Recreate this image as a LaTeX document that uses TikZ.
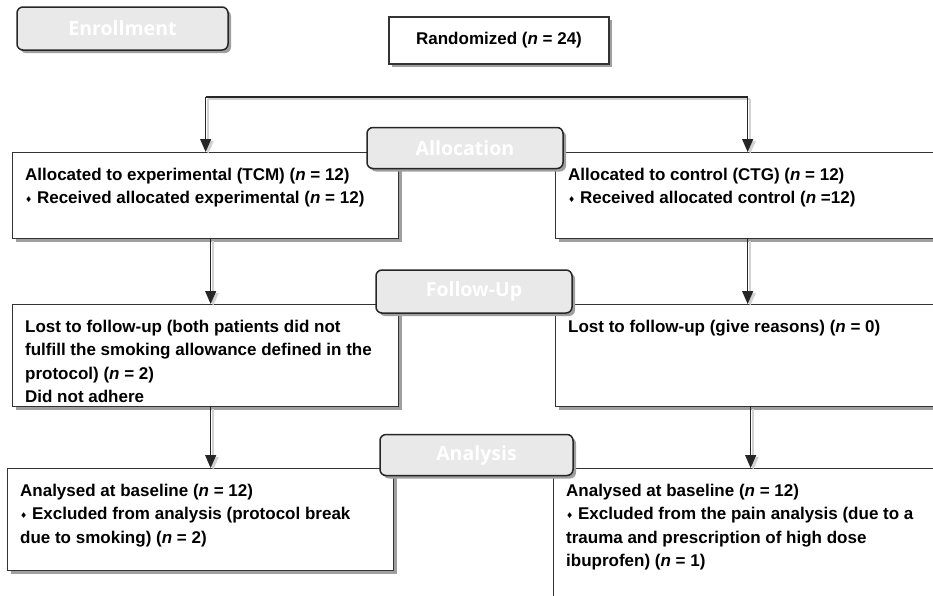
\documentclass[tikz,border=0pt]{standalone}
\usepackage{fontspec}
\setmainfont{Liberation Sans}
\newfontfamily\headfont{Open Sans}
\newfontfamily\symfont{DejaVu Sans}
\usetikzlibrary{arrows.meta,shadows,positioning}

% fixed-size text block for the flow boxes
\newcommand{\flowtext}[3]{\parbox[t][#2][t]{#1}{\raggedright\strut#3}}
\newcommand{\dmd}{{\symfont\fontsize{8}{8}\selectfont\raisebox{1.5pt}{♦}}\ }
\newcommand{\nn}{\textit{n}}

\tikzset{
  boxshadow/.style={drop shadow={shadow xshift=3pt, shadow yshift=-3pt, fill=gray!75, opacity=1}},
  flowbox/.style={draw=black!80, line width=1.3pt, fill=white, anchor=north west,
    inner xsep=12.5pt, inner ysep=11pt, boxshadow,
    font=\fontsize{17}{23.5}\selectfont\bfseries},
  randbox/.style={draw=black!80, line width=1.3pt, fill=white, boxshadow,
    minimum width=220pt, minimum height=47pt, inner sep=0pt,
    font=\fontsize{17}{23.5}\selectfont\bfseries},
  stagebox/.style={draw=black!85, line width=1.5pt, fill=gray!17, rounded corners=6pt,
    minimum width=196pt, minimum height=41pt, inner sep=0pt, text=white, boxshadow,
    font=\headfont\fontsize{19.5}{19.5}\selectfont\bfseries},
  flowline/.style={line width=1.2pt, draw=black!85,
    preaction={draw=gray!35, line width=1.5pt, transform canvas={shift={(2.5pt,-2pt)}}}},
  flowarrow/.style={flowline, -{Triangle[width=11pt,length=13pt]}}
}

\begin{document}
\begin{tikzpicture}[x=1pt,y=-1pt]
  \clip (0,0) rectangle (933,595);

  % top of the chart
  \node[randbox] (rand) at (499,40.5) {Randomized (\nn{} = 24)};

  % allocation
  \node[flowbox] (allocL) at (12,152) {\flowtext{361pt}{64pt}{%
    Allocated to experimental (TCM) (\nn{} = 12)\\
    \dmd Received allocated experimental (\nn{} = 12)}};
  \node[flowbox] (allocR) at (555,152) {\flowtext{359pt}{64pt}{%
    Allocated to control (CTG) (\nn{} = 12)\\
    \dmd Received allocated control (\nn{} =12)}};

  % follow-up
  \node[flowbox] (followL) at (12,304) {\flowtext{361pt}{80pt}{%
    Lost to follow-up (both patients did not\\
    fulfill the smoking allowance defined in the\\
    protocol) (\nn{} = 2)\\
    Did not adhere}};
  \node[flowbox] (followR) at (555,304) {\flowtext{359pt}{80pt}{%
    Lost to follow-up (give reasons) (\nn{} = 0)}};

  % analysis
  \node[flowbox] (analL) at (7,468) {\flowtext{361pt}{80pt}{%
    Analysed at baseline (\nn{} = 12)\\
    \dmd Excluded from analysis (protocol break\\
    due to smoking) (\nn{} = 2)}};
  \node[flowbox] (analR) at (553,468) {\flowtext{369pt}{118pt}{%
    Analysed at baseline (\nn{} = 12)\\
    \dmd Excluded from the pain analysis (due to a\\
    trauma and prescription of high dose\\
    ibuprofen) (\nn{} = 1)}};

  % connectors
  \coordinate (split) at (0,97);
  \draw[flowline] (allocL.north |- split) -- (allocR.north |- split);
  \draw[flowarrow] (allocL.north |- split) -- (allocL.north);
  \draw[flowarrow] (allocR.north |- split) -- (allocR.north);
  \draw[flowarrow] ([xshift=5pt]allocL.south) -- ([xshift=5pt]followL.north);
  \draw[flowarrow] (allocR.south) -- (followR.north);
  \draw[flowarrow] ([xshift=5pt]followL.south) -- ([xshift=5pt]followL.south |- analL.north);
  \draw[flowarrow] ([xshift=3pt]followR.south) -- ([xshift=3pt]followR.south |- analR.north);

  % stage labels
  \node[stagebox, minimum width=211pt, minimum height=43pt] (enroll) at (122.5,28.5) {Enrollment};
  \node[stagebox] (alloc) at (465,148) {Allocation};
  \node[stagebox, minimum height=43pt] (follow) at (474,291.5) {Follow-Up};
  \node[stagebox, minimum width=193pt] (analysis) at (476.5,455) {Analysis};
\end{tikzpicture}
\end{document}
